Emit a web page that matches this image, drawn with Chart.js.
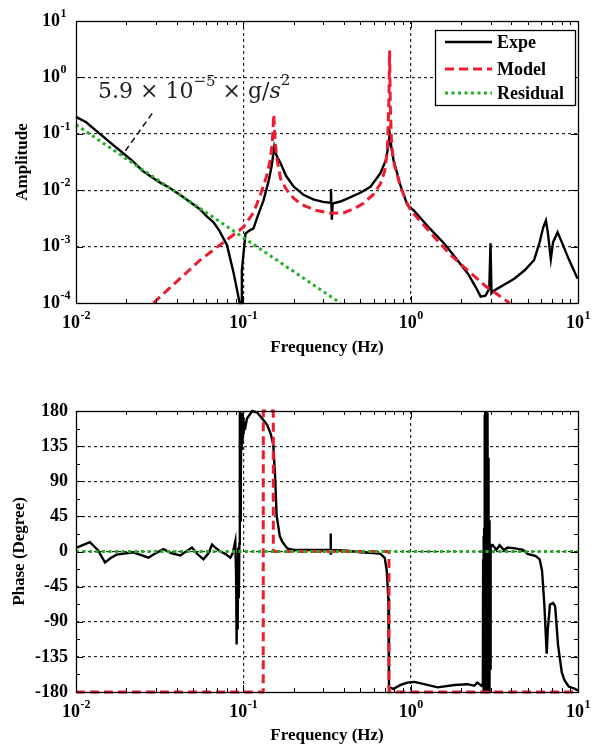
<!DOCTYPE html>
<html>
<head>
<meta charset="utf-8">
<script src="https://cdn.jsdelivr.net/npm/chart.js@4.4.1/dist/chart.umd.min.js"></script>
<style>
  html, body { margin: 0; padding: 0; background: #ffffff; }
  #wrap { position: relative; width: 595px; height: 747px; }
  canvas { position: absolute; left: 0; }
  #ampChart { top: 0; }
  #phaseChart { top: 375px; }
</style>
</head>
<body>
<div id="wrap">
  <canvas id="ampChart" width="595" height="375"></canvas>
  <canvas id="phaseChart" width="595" height="372"></canvas>
</div>
<script>
// -------------------------------------------------------
// 1. DATA
// Frequencies in Hz, amplitudes in g, phases in degrees.
// -------------------------------------------------------
const expeAmpFreq = [0.010, 0.0115, 0.0139, 0.0165, 0.0192, 0.022, 0.025, 0.028, 0.032, 0.036,
  0.042, 0.048, 0.055, 0.0607, 0.0664, 0.072, 0.0798, 0.0875, 0.0925, 0.095,
  0.097, 0.098, 0.103, 0.108, 0.115, 0.122, 0.132, 0.142, 0.148, 0.153,
  0.156, 0.160, 0.167, 0.18, 0.20, 0.23, 0.264, 0.30, 0.33, 0.334,
  0.338, 0.342, 0.38, 0.418, 0.50, 0.575, 0.66, 0.71, 0.735, 0.75,
  0.765, 0.79, 0.81, 0.87, 0.955, 1.05, 1.3, 1.6, 1.9, 2.2,
  2.45, 2.62, 2.8, 2.95, 3.0, 3.04, 3.1, 3.3, 3.7, 4.16,
  4.8, 5.47, 5.9, 6.2, 6.43, 6.6, 6.88, 7.1, 7.55, 8.0,
  8.8, 9.95];
const expeAmpVal = [0.20, 0.16, 0.10, 0.065, 0.045, 0.032, 0.022, 0.0175, 0.0135, 0.0112,
  0.0082, 0.0062, 0.0046, 0.0034, 0.0027, 0.0019, 0.00107, 0.00034, 0.00015, 0.0001,
  0.0001, 0.00038, 0.0017, 0.0019, 0.0021, 0.0035, 0.0066, 0.015, 0.028, 0.058,
  0.045, 0.038, 0.030, 0.018, 0.0115, 0.0082, 0.0068, 0.0062, 0.0060, 0.0105,
  0.0030, 0.0058, 0.0063, 0.0071, 0.0090, 0.0115, 0.020, 0.034, 0.06, 0.10,
  0.06, 0.034, 0.026, 0.012, 0.0055, 0.0043, 0.0021, 0.0011, 0.00058, 0.00033,
  0.00019, 0.00013, 0.000135, 0.00018, 0.00115, 0.00015, 0.00016, 0.00018, 0.00022, 0.00027,
  0.00038, 0.00058, 0.0012, 0.0022, 0.0029, 0.0018, 0.0006, 0.0012, 0.0018, 0.0012,
  0.0006, 0.00027];

const modelAmpFreq = [0.029, 0.0553, 0.1, 0.115, 0.126, 0.138, 0.145, 0.149, 0.152, 0.155,
  0.159, 0.167, 0.18, 0.20, 0.22, 0.27, 0.33, 0.40, 0.46, 0.52,
  0.60, 0.66, 0.70, 0.725, 0.74, 0.748, 0.756, 0.77, 0.80, 0.86,
  0.93, 1.0, 1.2, 1.38, 1.7, 2.19, 2.8, 3.9];
const modelAmpVal = [0.0001, 0.00058, 0.0022, 0.0040, 0.0080, 0.018, 0.035, 0.07, 0.22, 0.07,
  0.035, 0.016, 0.0105, 0.0072, 0.0057, 0.0044, 0.0039, 0.0040, 0.0047, 0.0058,
  0.0085, 0.013, 0.022, 0.05, 0.3, 3.0, 0.3, 0.06, 0.028, 0.013,
  0.0068, 0.0044, 0.0024, 0.0015, 0.00075, 0.00038, 0.0002, 0.0001];

const residAmpFreq = [0.01, 0.03, 0.1, 0.3, 0.38];
const residAmpVal = [0.145, 0.016, 0.00145, 0.00016, 0.0001];

// leader line of the residual formula label
const pointerFreq = [0.0285, 0.0189];
const pointerAmp = [0.229, 0.0418];

const expePhaseFreq = [0.0101, 0.0121, 0.0135, 0.0149, 0.0162, 0.0175, 0.022, 0.0271, 0.030, 0.0333,
  0.037, 0.042, 0.0493, 0.053, 0.0578, 0.062, 0.065, 0.068, 0.0728, 0.078,
  0.0836, 0.0865, 0.0895, 0.0905, 0.0912, 0.0918, 0.0925, 0.0932, 0.0940, 0.0947,
  0.0953, 0.0958, 0.0963, 0.0968, 0.0973, 0.0978, 0.0984, 0.0990, 0.0996, 0.1003,
  0.101, 0.103, 0.105, 0.113, 0.121, 0.130, 0.139, 0.146,
  0.151, 0.155, 0.158, 0.165, 0.1705, 0.183, 0.20, 0.26, 0.33, 0.332,
  0.334, 0.337, 0.42, 0.50, 0.60, 0.66, 0.70, 0.72, 0.735, 0.742,
  0.79, 0.87, 0.956, 1.05, 1.15, 1.45, 1.83, 2.18, 2.4, 2.5,
  2.65, 2.70, 2.71, 2.72, 2.73, 2.74, 2.75, 2.76, 2.77, 2.78,
  2.79, 2.80, 2.81, 2.82, 2.83, 2.84, 2.85, 2.86, 2.87, 2.88,
  2.89, 2.90, 2.91, 2.92, 2.93, 2.94, 2.95, 2.96, 2.97, 2.98,
  2.99, 3.02, 3.1, 3.25, 3.4, 3.6, 3.8, 4.2,
  4.7, 5.0, 5.6, 5.9, 6.1, 6.3, 6.5, 6.6, 6.8, 7.1,
  7.3, 7.6, 8.0, 8.3, 8.8, 9.6, 10];
const expePhaseDeg = [5, 12, 2, -14, -8, -4, -1, -8, -2, 3,
  -2, -5, 5, -3, -10, -2, 9, 5, 0, -3,
  -8, -2, 13, -30, -119, -10, -100, 5, -60, 10,
  180, 40, 175, 90, 178, 130, 176, 140, 172, 150,
  165, 160, 170, 180, 178, 170, 162, 150,
  137, 94, 47, 20, 13, 4, 2, 2, 2, 23,
  -4, 2, 1, -1, -2, -3, -8, -25, -60, -174,
  -176, -171, -168, -167, -169, -174, -171, -170, -172, -168,
  -172, -170, -10, -180, 20, -178, 30, -180, 175, -176,
  180, -180, 178, -179, 180, -178, 176, -180, 178, -176,
  170, -180, 120, -178, 60, -180, 40, -176, 20, -150,
  10, 6, 8, 2, 8, 2, 5, 4,
  2, -3, -6, -10, -25, -70, -131, -100, -68, -66,
  -70, -120, -155, -165, -173, -176, -178];

const modelPhaseFreq = [0.01, 0.1315, 0.1316, 0.151, 0.1511, 0.742, 0.7421, 10];
const modelPhaseDeg = [-180, -180, 180, 180, 0, 0, -180, -180];

const residPhaseFreq = [0.01, 10];
const residPhaseDeg = [0, 0];

// axis ticks
const freqDecades = [0.01, 0.1, 1, 10];
const ampDecades = [1e-4, 1e-3, 1e-2, 1e-1, 1, 10];
const phaseTicks = [-180, -135, -90, -45, 0, 45, 90, 135, 180];
const legendNames = ['Expe', 'Model', 'Residual'];


// -------------------------------------------------------
// 2. STYLES AND HELPERS
// -------------------------------------------------------
const SERIF = '"Liberation Serif", "Times New Roman", serif';
const STYLE = {
    expe:  { borderColor: '#000000', borderWidth: 2.4, borderDash: [] },
    model: { borderColor: '#ee1c2e', borderWidth: 3, borderDash: [9, 5] },
    resid: { borderColor: '#22b022', borderWidth: 3, borderDash: [3, 3.5] }
};

function pairs(xs, ys) {
    return xs.map((x, i) => ({ x: x, y: ys[i] }));
}

function series(label, xs, ys, style, order) {
    return Object.assign({
        label: label,
        data: pairs(xs, ys),
        pointRadius: 0,
        tension: 0,
        fill: false,
        clip: 4,
        order: order
    }, style);
}

function isDecade(v) {
    const l = Math.log10(v);
    return Math.abs(l - Math.round(l)) < 1e-6;
}

// "10" with a raised exponent
function drawPow(ctx, exp, x, y, align) {
    const big = 'bold 18px ' + SERIF;
    const small = 'bold 12px ' + SERIF;
    const sup = String(exp);
    ctx.font = big;
    const wb = ctx.measureText('10').width;
    ctx.font = small;
    const ws = ctx.measureText(sup).width;
    const left = align === 'center' ? x - (wb + ws) / 2 : x;
    ctx.textAlign = 'left';
    ctx.textBaseline = 'middle';
    ctx.font = big;
    ctx.fillText('10', left, y);
    ctx.font = small;
    ctx.fillText(sup, left + wb + 0.5, y - 7);
}

function minorFreqs() {
    const out = [];
    [0.01, 0.1, 1].forEach(d => {
        for (let m = 2; m <= 9; m++) out.push(d * m);
    });
    return out;
}


// -------------------------------------------------------
// 3. FRAME / LABEL PLUGIN
// Box, inward ticks, tick labels, axis titles, legend and note.
// -------------------------------------------------------
const matlabFrame = {
    id: 'matlabFrame',
    afterDatasetsDraw(chart, args, opts) {
        const { ctx, chartArea: a, scales } = chart;
        const xs = scales.x, ys = scales.y;
        ctx.save();
        ctx.setLineDash([]);
        ctx.strokeStyle = '#000';
        ctx.fillStyle = '#000';

        // ticks along top and bottom
        ctx.lineWidth = 1;
        ctx.beginPath();
        freqDecades.forEach(v => {
            const px = Math.round(xs.getPixelForValue(v)) + 0.5;
            ctx.moveTo(px, a.bottom); ctx.lineTo(px, a.bottom - 7);
            ctx.moveTo(px, a.top); ctx.lineTo(px, a.top + 7);
        });
        minorFreqs().forEach(v => {
            const px = Math.round(xs.getPixelForValue(v)) + 0.5;
            ctx.moveTo(px, a.bottom); ctx.lineTo(px, a.bottom - 4);
            ctx.moveTo(px, a.top); ctx.lineTo(px, a.top + 4);
        });
        // ticks along left and right
        const yMajor = opts.logY ? ampDecades : phaseTicks;
        yMajor.forEach(v => {
            const py = Math.round(ys.getPixelForValue(v)) + 0.5;
            ctx.moveTo(a.left, py); ctx.lineTo(a.left + 7, py);
            ctx.moveTo(a.right, py); ctx.lineTo(a.right - 7, py);
        });
        if (!opts.logY) {
            for (let v = -157.5; v < 180; v += 45) {
                const py = Math.round(ys.getPixelForValue(v)) + 0.5;
                ctx.moveTo(a.left, py); ctx.lineTo(a.left + 4, py);
                ctx.moveTo(a.right, py); ctx.lineTo(a.right - 4, py);
            }
        }
        ctx.stroke();

        // box
        ctx.lineWidth = 1.3;
        ctx.strokeRect(a.left + 0.5, a.top + 0.5, a.right - a.left, a.bottom - a.top);

        // x tick labels
        freqDecades.forEach(v => {
            drawPow(ctx, Math.round(Math.log10(v)), xs.getPixelForValue(v), a.bottom + 20, 'center');
        });

        // y tick labels
        if (opts.logY) {
            ampDecades.forEach(v => {
                drawPow(ctx, Math.round(Math.log10(v)), 42, ys.getPixelForValue(v), 'left');
            });
        } else {
            ctx.font = 'bold 18px ' + SERIF;
            ctx.textAlign = 'right';
            ctx.textBaseline = 'middle';
            phaseTicks.forEach(v => {
                ctx.fillText(String(v), 68, ys.getPixelForValue(v));
            });
        }

        // axis titles
        ctx.font = 'bold 17px ' + SERIF;
        ctx.textAlign = 'center';
        ctx.textBaseline = 'middle';
        ctx.fillText('Frequency (Hz)', (a.left + a.right) / 2, a.bottom + opts.xTitleGap);
        ctx.save();
        ctx.translate(opts.yTitleX, (a.top + a.bottom) / 2);
        ctx.rotate(-Math.PI / 2);
        ctx.fillText(opts.yTitle, 0, 0);
        ctx.restore();

        if (opts.legend) drawLegend(ctx, chart);
        if (opts.note) drawNote(ctx);
        ctx.restore();
    }
};

function drawLegend(ctx, chart) {
    const box = { x: 435.5, y: 30.5, w: 140, h: 75 };
    const rows = [42, 69, 93];
    ctx.fillStyle = '#fff';
    ctx.fillRect(box.x, box.y, box.w, box.h);
    ctx.strokeStyle = '#000';
    ctx.lineWidth = 1.3;
    ctx.setLineDash([]);
    ctx.strokeRect(box.x, box.y, box.w, box.h);

    legendNames.forEach((name, i) => {
        const ds = chart.data.datasets[i];
        ctx.strokeStyle = ds.borderColor;
        ctx.lineWidth = ds.borderWidth;
        ctx.setLineDash(ds.borderDash || []);
        ctx.beginPath();
        ctx.moveTo(445, rows[i]);
        ctx.lineTo(492, rows[i]);
        ctx.stroke();
        ctx.setLineDash([]);
        ctx.fillStyle = '#000';
        ctx.font = 'bold 18px ' + SERIF;
        ctx.textAlign = 'left';
        ctx.textBaseline = 'middle';
        ctx.fillText(name, 497, rows[i] + 1);
    });
}

// residual formula: 5.9 x 10^-5 x g/s^2
function drawNote(ctx) {
    const font = '"DejaVu Serif", serif';
    const base = 98;
    let x = 98;
    ctx.fillStyle = '#222';
    ctx.textAlign = 'left';
    ctx.textBaseline = 'alphabetic';
    const put = (txt, f, dy) => {
        ctx.font = f;
        ctx.fillText(txt, x, base - dy);
        x += ctx.measureText(txt).width;
    };
    put('5.9 \u00d7 10', '22px ' + font, 0);
    put('\u22125', '15px ' + font, 12);
    put(' \u00d7 g/', '22px ' + font, 0);
    put('s', 'italic 22px ' + font, 0);
    put('2', '15px ' + font, 13);
}


// -------------------------------------------------------
// 4. CHART BUILDER
// -------------------------------------------------------
function gridColor(logScale) {
    return c => {
        const v = c.tick ? c.tick.value : null;
        if (v === null) return 'rgba(0,0,0,0)';
        const s = c.scale;
        if (Math.abs(v - s.min) < 1e-9 || Math.abs(v - s.max) < 1e-9) return 'rgba(0,0,0,0)';
        if (logScale && !isDecade(v)) return 'rgba(0,0,0,0)';
        return '#2a2a2a';
    };
}

function axis(type, min, max, logScale, extra) {
    return Object.assign({
        type: type,
        min: min,
        max: max,
        ticks: { display: false, autoSkip: false },
        grid: { drawTicks: false, color: gridColor(logScale), lineWidth: 1.2 },
        border: { display: false, dash: [3, 3] }
    }, extra || {});
}

function buildChart(canvasId, datasets, yAxis, padding, frameOpts) {
    const ctx = document.getElementById(canvasId);
    if (!ctx) return;
    new Chart(ctx, {
        type: 'line',
        data: { datasets: datasets },
        options: {
            responsive: false,
            animation: false,
            events: [],
            layout: { padding: padding },
            scales: {
                x: axis('logarithmic', 0.01, 10, true),
                y: yAxis
            },
            plugins: {
                legend: { display: false },
                tooltip: { enabled: false },
                matlabFrame: frameOpts
            }
        },
        plugins: [matlabFrame]
    });
}

// amplitude
buildChart('ampChart', [
    series('Expe', expeAmpFreq, expeAmpVal, STYLE.expe, 3),
    series('Model', modelAmpFreq, modelAmpVal, STYLE.model, 2),
    series('Residual', residAmpFreq, residAmpVal, STYLE.resid, 1),
    series('pointer', pointerFreq, pointerAmp,
        { borderColor: '#111', borderWidth: 1.5, borderDash: [6, 4] }, 0)
], axis('logarithmic', 1e-4, 10, true),
   { left: 76, right: 17, top: 21, bottom: 72 },
   { logY: true, yTitle: 'Amplitude', yTitleX: 23, xTitleGap: 45, legend: true, note: true });

// phase
buildChart('phaseChart', [
    series('Expe', expePhaseFreq, expePhaseDeg, STYLE.expe, 3),
    series('Model', modelPhaseFreq, modelPhaseDeg, STYLE.model, 2),
    series('Residual', residPhaseFreq, residPhaseDeg, STYLE.resid, 1)
], axis('linear', -180, 180, false, {
        ticks: { display: false, autoSkip: false, stepSize: 45 }
   }),
   { left: 76, right: 17, top: 36, bottom: 55 },
   { logY: false, yTitle: 'Phase (Degree)', yTitleX: 20, xTitleGap: 44, legend: false, note: false });
</script>
</body>
</html>
